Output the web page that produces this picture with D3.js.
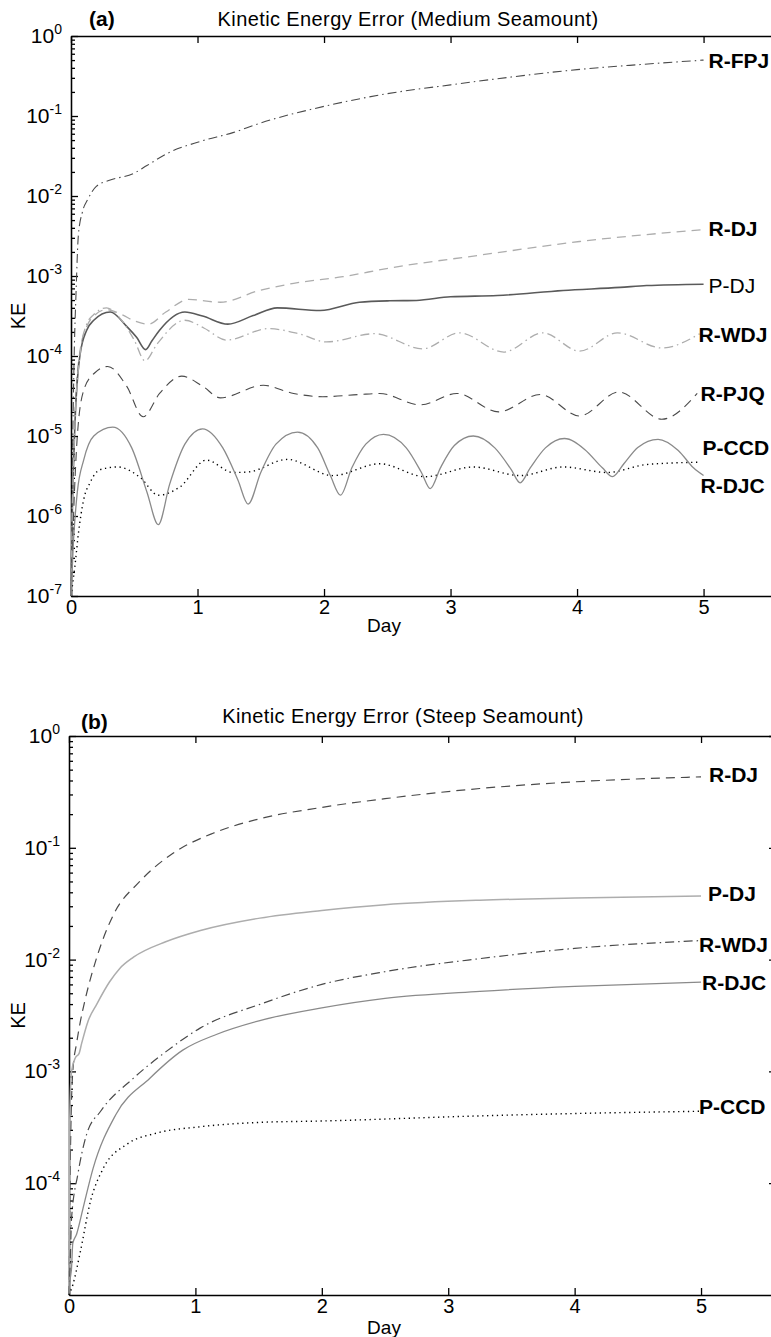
<!DOCTYPE html>
<head>
    <meta charset="utf-8">
    <title>Kinetic Energy Error</title>
    <style>
        body {
            margin: 0;
            background: #fff;
        }

        text {
            font-family: 'Liberation Sans', Arial, sans-serif;
            fill: #000;
        }

        .axis path,
        .axis line {
            fill: none;
            stroke: #000;
            stroke-width: 1.3px;
        }

        .axis text {
            font-size: 20px;
        }

        .line {
            fill: none;
        }
    </style>
    <script src="https://cdn.jsdelivr.net/npm/d3@7"></script>
</head>

<body>
    <script type="text/javascript">
        "use strict";

        // ---- labels and ticks ----
        var aTitle = "Kinetic Energy Error (Medium Seamount)";
        var bTitle = "Kinetic Energy Error (Steep Seamount)";
        var xTickValues = [0, 1, 2, 3, 4, 5];
        var aYTicks = [1, 1e-1, 1e-2, 1e-3, 1e-4, 1e-5, 1e-6, 1e-7];
        var aYTickExp = ["0", "-1", "-2", "-3", "-4", "-5", "-6", "-7"];
        var bYTicks = [1, 1e-1, 1e-2, 1e-3, 1e-4];
        var bYTickExp = ["0", "-1", "-2", "-3", "-4"];
        var aNames = ["R-FPJ", "R-DJ", "P-DJ", "R-WDJ", "R-PJQ", "P-CCD", "R-DJC"];
        var bNames = ["R-DJ", "P-DJ", "R-WDJ", "R-DJC", "P-CCD"];

        // ---- panel (a): medium seamount ----
        var aRFPJday = [0, 0.01, 0.025, 0.04, 0.058, 0.09, 0.13, 0.2, 0.31, 0.49, 0.6, 0.76, 1.02, 1.28, 1.49, 2, 2.5, 3, 3.5, 4, 4.5, 5];
        var aRFPJke = [1e-7, 3.2e-6, 1e-4, 6.3e-4, 3.2e-3, 6.3e-3, 8.9e-3, 1.32e-2, 1.58e-2, 1.9e-2, 2.4e-2, 3.4e-2, 4.8e-2, 6.2e-2, 8.1e-2, 0.132, 0.19, 0.245, 0.31, 0.38, 0.44, 0.5];

        var aRDJday = [0, 0.01, 0.03, 0.07, 0.12, 0.18, 0.28, 0.4, 0.5, 0.61, 0.75, 0.93, 1.18, 1.49, 1.76, 2.15, 2.52, 3.23, 4.02, 5];
        var aRDJke = [1e-7, 1e-6, 1.6e-5, 1.12e-4, 2.24e-4, 3.16e-4, 3.8e-4, 3.3e-4, 2.75e-4, 2.5e-4, 3.55e-4, 5.1e-4, 4.7e-4, 6.6e-4, 8.1e-4, 9.8e-4, 1.26e-3, 1.82e-3, 2.7e-3, 3.8e-3];

        var aPDJday = [0, 0.01, 0.03, 0.07, 0.124, 0.18, 0.31, 0.44, 0.52, 0.59, 0.64, 0.7, 0.9, 1.04, 1.24, 1.44, 1.63, 1.97, 2.28, 2.52, 2.73, 3, 3.37, 3.89, 4.34, 4.55, 5];
        var aPDJke = [1e-7, 1e-6, 1.26e-5, 1e-4, 2.1e-4, 2.8e-4, 3.55e-4, 2.35e-4, 1.7e-4, 1.2e-4, 1.55e-4, 2.1e-4, 3.55e-4, 3.16e-4, 2.5e-4, 3.2e-4, 4.0e-4, 3.7e-4, 4.7e-4, 4.9e-4, 4.95e-4, 5.5e-4, 5.7e-4, 6.6e-4, 7.2e-4, 7.6e-4, 7.9e-4];

        var aRWDJday = [0, 0.01, 0.03, 0.07, 0.12, 0.18, 0.28, 0.4, 0.5, 0.585, 0.68, 0.9, 1.05, 1.23, 1.56, 1.8, 2.02, 2.4, 2.78, 3.07, 3.42, 3.73, 4.02, 4.32, 4.67, 4.97];
        var aRWDJke = [1e-7, 1e-6, 1.26e-5, 1e-4, 2.4e-4, 3.3e-4, 4.0e-4, 2.8e-4, 1.58e-4, 8.7e-5, 1.41e-4, 2.8e-4, 2.24e-4, 1.58e-4, 2.2e-4, 1.9e-4, 1.5e-4, 1.9e-4, 1.23e-4, 1.95e-4, 1.12e-4, 1.95e-4, 1.15e-4, 1.95e-4, 1.26e-4, 1.9e-4];

        var aRPJQday = [0, 0.02, 0.05, 0.1, 0.18, 0.29, 0.44, 0.57, 0.7, 0.875, 1.04, 1.18, 1.52, 1.76, 1.99, 2.28, 2.44, 2.76, 3.05, 3.38, 3.71, 4.02, 4.33, 4.67, 4.95];
        var aRPJQke = [1e-7, 1e-6, 1e-5, 3.7e-5, 6.0e-5, 7.4e-5, 4.2e-5, 1.74e-5, 3.4e-5, 5.6e-5, 4.2e-5, 3.0e-5, 4.3e-5, 3.4e-5, 3.1e-5, 3.3e-5, 3.4e-5, 2.45e-5, 3.4e-5, 2.0e-5, 3.3e-5, 1.78e-5, 3.55e-5, 1.62e-5, 3.4e-5];

        var aPCCDday = [0, 0.03, 0.06, 0.1, 0.15, 0.23, 0.37, 0.55, 0.69, 0.86, 1.07, 1.28, 1.4, 1.71, 2.07, 2.44, 2.8, 3.18, 3.55, 3.89, 4.24, 4.55, 4.96];
        var aPCCDke = [1e-7, 2.3e-7, 6.3e-7, 1.6e-6, 2.6e-6, 3.8e-6, 4.1e-6, 3.0e-6, 1.82e-6, 2.3e-6, 5.0e-6, 3.5e-6, 3.55e-6, 5.1e-6, 3.2e-6, 4.5e-6, 3.1e-6, 4.1e-6, 3.2e-6, 4.1e-6, 3.5e-6, 4.4e-6, 4.7e-6];

        var aRDJCday = [0, 0.02, 0.05, 0.1, 0.18, 0.33, 0.48, 0.6, 0.69, 0.78, 0.9, 1.04, 1.2, 1.32, 1.4, 1.5, 1.62, 1.79, 1.95, 2.05, 2.13, 2.22, 2.33, 2.47, 2.65, 2.77, 2.84, 2.92, 3.03, 3.18, 3.35, 3.48, 3.55, 3.63, 3.75, 3.9, 4.06, 4.2, 4.28, 4.37, 4.48, 4.64, 4.8, 4.92, 5];
        var aRDJCke = [1e-7, 5.0e-7, 2.0e-6, 5.0e-6, 1.0e-5, 1.29e-5, 7.1e-6, 2.0e-6, 7.8e-7, 2.5e-6, 7.9e-6, 1.23e-5, 7.1e-6, 2.8e-6, 1.41e-6, 3.5e-6, 7.9e-6, 1.12e-5, 7.1e-6, 3.2e-6, 1.82e-6, 4.0e-6, 7.9e-6, 1.05e-5, 7.1e-6, 3.5e-6, 2.2e-6, 4.0e-6, 7.6e-6, 1.0e-5, 7.1e-6, 3.8e-6, 2.6e-6, 4.0e-6, 7.1e-6, 9.3e-6, 6.8e-6, 4.0e-6, 3.1e-6, 4.5e-6, 7.2e-6, 9.1e-6, 6.6e-6, 4.0e-6, 3.2e-6];

        // ---- panel (b): steep seamount ----
        var bRDJday = [0, 0.005, 0.015, 0.03, 0.06, 0.09, 0.13, 0.22, 0.35, 0.56, 0.82, 1.14, 1.51, 1.99, 2.5, 3.25, 4, 5];
        var bRDJke = [1e-5, 5e-5, 3.2e-4, 1e-3, 1.78e-3, 2.8e-3, 4.5e-3, 1.05e-2, 2.5e-2, 5.0e-2, 8.9e-2, 0.135, 0.182, 0.229, 0.275, 0.339, 0.389, 0.431];

        var bPDJday = [0, 0.005, 0.02, 0.05, 0.08, 0.1, 0.15, 0.22, 0.32, 0.4, 0.51, 0.77, 1.04, 1.51, 2, 2.5, 3.25, 4, 5];
        var bPDJke = [1e-5, 3.2e-4, 1e-3, 1.32e-3, 1.45e-3, 1.78e-3, 2.8e-3, 4.0e-3, 6.3e-3, 8.3e-3, 1.05e-2, 1.45e-2, 1.82e-2, 2.35e-2, 2.75e-2, 3.1e-2, 3.4e-2, 3.55e-2, 3.7e-2];

        var bRWDJday = [0, 0.01, 0.02, 0.07, 0.14, 0.25, 0.51, 0.77, 1.04, 1.51, 2, 2.5, 3.25, 4, 5];
        var bRWDJke = [1e-5, 2e-5, 4.8e-5, 1.2e-4, 2.75e-4, 4.4e-4, 8.7e-4, 1.51e-3, 2.45e-3, 3.98e-3, 6.0e-3, 7.8e-3, 1.02e-2, 1.26e-2, 1.48e-2];

        var bRDJCday = [0, 0.01, 0.02, 0.03, 0.06, 0.11, 0.19, 0.37, 0.64, 0.9, 1.17, 1.51, 2, 2.5, 3.25, 4, 5];
        var bRDJCke = [1e-5, 1.4e-5, 1.74e-5, 2.9e-5, 3.5e-5, 5.9e-5, 1.35e-4, 4.1e-4, 8.7e-4, 1.55e-3, 2.15e-3, 2.85e-3, 3.7e-3, 4.5e-3, 5.2e-3, 5.75e-3, 6.3e-3];

        var bPCCDday = [0, 0.03, 0.09, 0.17, 0.27, 0.46, 0.69, 1.04, 1.51, 2, 3.25, 4, 5];
        var bPCCDke = [1e-5, 1.23e-5, 2.45e-5, 6.9e-5, 1.35e-4, 2.24e-4, 2.8e-4, 3.2e-4, 3.5e-4, 3.6e-4, 4.0e-4, 4.2e-4, 4.4e-4];

        // line styles
        var dark = "#4a4a4a", light = "#adadad", mid = "#8a8a8a";
        var styles = {
            dashed: "9,6",
            dashdot: "9,4,1.5,4",
            dotted: "1.3,3.6",
            solid: null
        };

        function zip(days, kes) {
            return days.map(function (d, i) { return { day: d, ke: kes[i] }; });
        }

        var panels = [
            {
                tag: "(a)", title: aTitle, left: 71, right: 782, top: 36, bottom: 596, xMax: 5.62, yMin: 1e-7,
                yTicks: aYTicks, yExp: aYTickExp, titleX: 408, titleY: 26, tagX: 89, tagY: 26,
                keX: 18, dayY: 632,
                series: [
                    { name: aNames[0], data: zip(aRFPJday, aRFPJke), color: dark, dash: styles.dashdot, width: 1.1, bold: true, dx: 5, dy: 0 },
                    { name: aNames[1], data: zip(aRDJday, aRDJke), color: light, dash: styles.dashed, width: 1.3, bold: true, dx: 5, dy: -1 },
                    { name: aNames[2], data: zip(aPDJday, aPDJke), color: "#5a5a5a", dash: styles.solid, width: 1.6, bold: false, dx: 5, dy: 1 },
                    { name: aNames[3], data: zip(aRWDJday, aRWDJke), color: light, dash: styles.dashdot, width: 1.3, bold: true, dx: -5, dy: 1 },
                    { name: aNames[4], data: zip(aRPJQday, aRPJQke), color: dark, dash: styles.dashed, width: 1.1, bold: true, dx: -3, dy: 0 },
                    { name: aNames[5], data: zip(aPCCDday, aPCCDke), color: "#000", dash: styles.dotted, width: 1.4, bold: true, dx: -1, dy: -15 },
                    { name: aNames[6], data: zip(aRDJCday, aRDJCke), color: mid, dash: styles.solid, width: 1.3, bold: true, dx: -3, dy: 10 }
                ]
            },
            {
                tag: "(b)", title: bTitle, left: 69, right: 776, top: 736, bottom: 1295, xMax: 5.593, yMin: 1e-5,
                yTicks: bYTicks, yExp: bYTickExp, titleX: 403, titleY: 723, tagX: 81, tagY: 729,
                keX: 18, dayY: 1334,
                series: [
                    { name: bNames[0], data: zip(bRDJday, bRDJke), color: dark, dash: styles.dashed, width: 1.2, bold: true, dx: 8, dy: -2 },
                    { name: bNames[1], data: zip(bPDJday, bPDJke), color: light, dash: styles.solid, width: 1.5, bold: true, dx: 7, dy: -3 },
                    { name: bNames[2], data: zip(bRWDJday, bRWDJke), color: dark, dash: styles.dashdot, width: 1.2, bold: true, dx: -2, dy: 4 },
                    { name: bNames[3], data: zip(bRDJCday, bRDJCke), color: mid, dash: styles.solid, width: 1.3, bold: true, dx: 1, dy: 0 },
                    { name: bNames[4], data: zip(bPCCDday, bPCCDke), color: "#000", dash: styles.dotted, width: 1.4, bold: true, dx: -2, dy: -5 }
                ]
            }
        ];

        var svg = d3.select("body").append("svg")
            .attr("width", 771)
            .attr("height", 1337);

        panels.forEach(drawPanel);

        function drawPanel(p) {
            var x = d3.scaleLinear().domain([0, p.xMax]).range([p.left, p.right]);
            var y = d3.scaleLog().domain([p.yMin, 1]).range([p.bottom, p.top]);
            var g = svg.append("g");

            // minor log ticks 2..9 of each decade
            var minor = [];
            for (var e = Math.round(Math.log10(p.yMin)); e < 0; e++) {
                for (var m = 2; m < 10; m++) minor.push(m * Math.pow(10, e));
            }

            g.append("g").attr("class", "axis")
                .attr("transform", "translate(" + p.left + ",0)")
                .call(d3.axisRight(y).tickValues(minor).tickSize(4).tickSizeOuter(0).tickFormat(""));
            g.append("g").attr("class", "axis")
                .attr("transform", "translate(" + p.left + ",0)")
                .call(d3.axisRight(y).tickValues(p.yTicks).tickSize(7).tickSizeOuter(0).tickFormat(""));
            g.append("g").attr("class", "axis")
                .attr("transform", "translate(" + p.right + ",0)")
                .call(d3.axisLeft(y).tickValues(p.yTicks).tickSize(7).tickSizeOuter(0).tickFormat(""));

            var bottomAxis = g.append("g").attr("class", "axis")
                .attr("transform", "translate(0," + p.bottom + ")")
                .call(d3.axisBottom(x).tickValues(xTickValues).tickFormat(d3.format("d"))
                    .tickSizeInner(-7).tickSizeOuter(0).tickPadding(4));
            bottomAxis.selectAll("text").attr("fill", "#000");

            g.append("g").attr("class", "axis")
                .attr("transform", "translate(0," + p.top + ")")
                .call(d3.axisTop(x).tickValues(xTickValues).tickSizeInner(-7).tickSizeOuter(0).tickFormat(""));

            // 10^n tick labels
            var yl = g.append("g").selectAll("text")
                .data(p.yTicks)
                .enter().append("text")
                .attr("x", p.left - 9)
                .attr("y", function (d) { return y(d) + 7; })
                .attr("text-anchor", "end")
                .style("font-size", "21px");
            yl.append("tspan").text("10");
            yl.append("tspan")
                .attr("dy", -9)
                .style("font-size", "14px")
                .text(function (d, i) { return p.yExp[i]; });

            // curves
            var line = d3.line()
                .curve(d3.curveMonotoneX)
                .x(function (d) { return x(d.day); })
                .y(function (d) { return y(d.ke); });

            g.selectAll(".line")
                .data(p.series)
                .enter().append("path")
                .attr("class", "line")
                .attr("d", function (s) { return line(s.data); })
                .style("stroke", function (s) { return s.color; })
                .style("stroke-width", function (s) { return s.width; })
                .style("stroke-dasharray", function (s) { return s.dash; });

            g.selectAll(".label")
                .data(p.series)
                .enter().append("text")
                .attr("class", "label")
                .attr("x", function (s) { return x(5) + s.dx; })
                .attr("y", function (s) { return y(s.data[s.data.length - 1].ke) + s.dy; })
                .attr("dy", "0.36em")
                .style("font-size", "21px")
                .style("font-weight", function (s) { return s.bold ? "bold" : "normal"; })
                .text(function (s) { return s.name; });

            // titles
            g.append("text")
                .attr("x", p.titleX)
                .attr("y", p.titleY)
                .attr("text-anchor", "middle")
                .style("font-size", "20px")
                .style("letter-spacing", "0.4px")
                .text(p.title);
            g.append("text")
                .attr("x", p.tagX)
                .attr("y", p.tagY)
                .style("font-size", "21px")
                .style("font-weight", "bold")
                .text(p.tag);
            g.append("text")
                .attr("transform", "translate(" + (p.keX + 7) + "," + ((p.top + p.bottom) / 2) + ") rotate(-90)")
                .attr("text-anchor", "middle")
                .style("font-size", "20px")
                .text("KE");
            g.append("text")
                .attr("x", 384)
                .attr("y", p.dayY)
                .attr("text-anchor", "middle")
                .style("font-size", "19px")
                .text("Day");
        }
    </script>
</body>
